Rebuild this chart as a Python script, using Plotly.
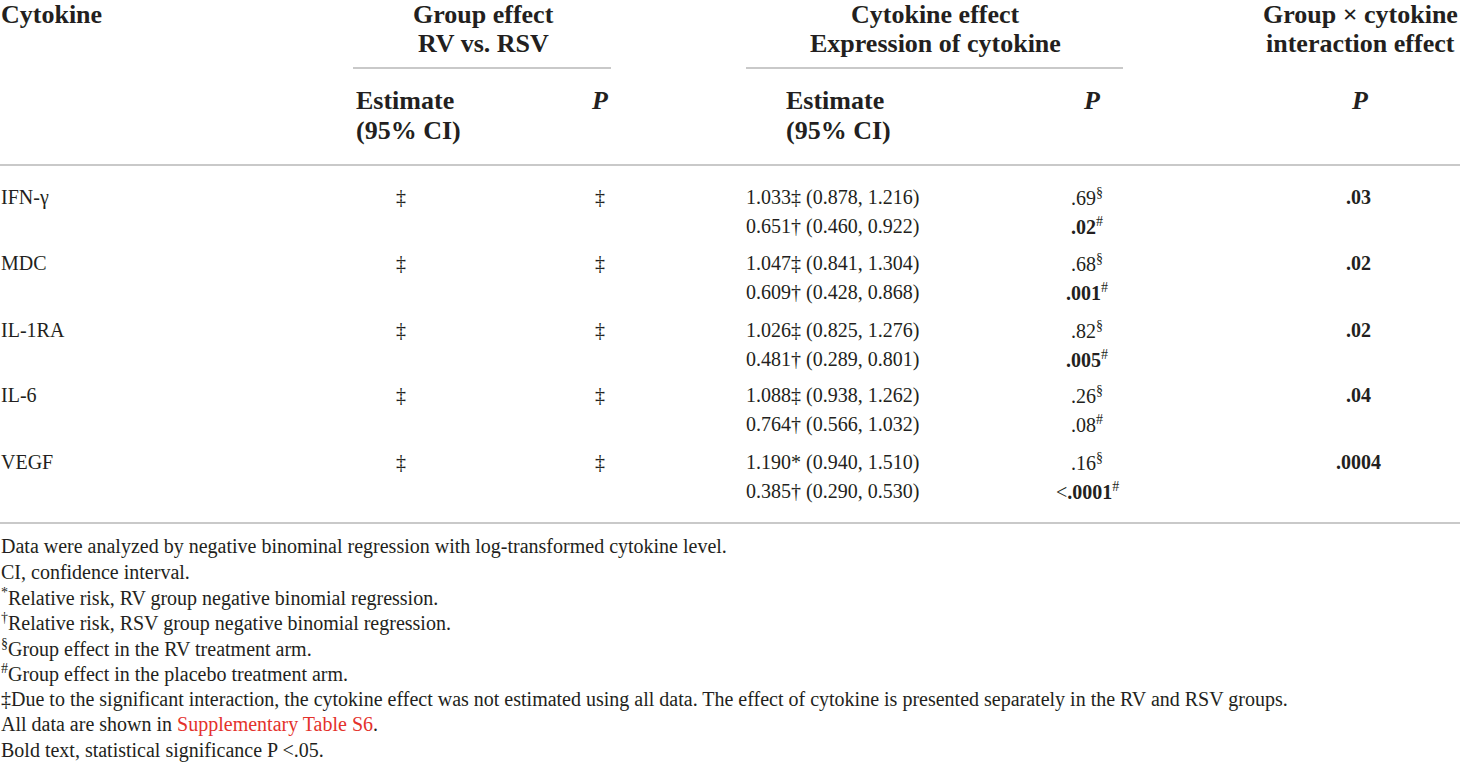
import plotly.graph_objects as go

# ---------------- data ----------------
cytokines = ["IFN-γ", "MDC", "IL-1RA", "IL-6", "VEGF"]
group_estimate = ["‡", "‡", "‡", "‡", "‡"]
group_p = ["‡", "‡", "‡", "‡", "‡"]

rv_rr = ["1.033", "1.047", "1.026", "1.088", "1.190"]
rv_mark = ["‡", "‡", "‡", "‡", "*"]
rv_lo = ["0.878", "0.841", "0.825", "0.938", "0.940"]
rv_hi = ["1.216", "1.304", "1.276", "1.262", "1.510"]
rv_p = [".69", ".68", ".82", ".26", ".16"]
rv_p_bold = [False, False, False, False, False]

rsv_rr = ["0.651", "0.609", "0.481", "0.764", "0.385"]
rsv_mark = ["†", "†", "†", "†", "†"]
rsv_lo = ["0.460", "0.428", "0.289", "0.566", "0.290"]
rsv_hi = ["0.922", "0.868", "0.801", "1.032", "0.530"]
rsv_p_prefix = ["", "", "", "", "<"]
rsv_p = [".02", ".001", ".005", ".08", ".0001"]
rsv_p_bold = [True, True, True, False, True]

interaction_p = [".03", ".02", ".02", ".04", ".0004"]
interaction_bold = [True, True, True, True, True]

footnotes = [
    "Data were analyzed by negative binominal regression with log-transformed cytokine level.",
    "CI, confidence interval.",
    "<sup>*</sup>Relative risk, RV group negative binomial regression.",
    "<sup>†</sup>Relative risk, RSV group negative binomial regression.",
    "<sup>§</sup>Group effect in the RV treatment arm.",
    "<sup>#</sup>Group effect in the placebo treatment arm.",
    "‡Due to the significant interaction, the cytokine effect was not estimated using all data. "
    "The effect of cytokine is presented separately in the RV and RSV groups.",
    "All data are shown in <span style='color:#e4312b'>Supplementary Table S6</span>.",
    "Bold text, statistical significance P &lt;.05.",
]

# ---------------- styling ----------------
W, H = 1460, 763
FONT = "Liberation Serif"
TXT = "#231f20"
RULE = "#c9c9c9"
BODY = 20
HEAD = 26

row_y = [197, 263, 330, 395, 462]
row_gap = 29
foot_y0, foot_gap = 546, 25.5

annotations = []


def add(text, x, y, size=BODY, xanchor="left", bold=False, italic=False, color=TXT):
    t = text
    if bold:
        t = f"<b>{t}</b>"
    if italic:
        t = f"<i>{t}</i>"
    annotations.append(dict(
        text=t, x=x, y=y, xref="x", yref="y", xanchor=xanchor, yanchor="middle",
        showarrow=False, font=dict(family=FONT, size=size, color=color), align="left",
        borderpad=0,
    ))


def bold_if(s, b):
    return f"<b>{s}</b>" if b else s


# headers
add("Cytokine", 0, 14, HEAD, bold=True)
add("Group effect", 483, 14, HEAD, "center", bold=True)
add("RV vs. RSV", 483, 43, HEAD, "center", bold=True)
add("Cytokine effect", 935, 14, HEAD, "center", bold=True)
add("Expression of cytokine", 935, 43, HEAD, "center", bold=True)
add("Group × cytokine", 1360, 14, HEAD, "center", bold=True)
add("interaction effect", 1360, 43, HEAD, "center", bold=True)

add("Estimate", 355, 100, HEAD, bold=True)
add("(95% CI)", 355, 130, HEAD, bold=True)
add("P", 600, 100, HEAD, "center", bold=True, italic=True)
add("Estimate", 785, 100, HEAD, bold=True)
add("(95% CI)", 785, 130, HEAD, bold=True)
add("P", 1092, 100, HEAD, "center", bold=True, italic=True)
add("P", 1360, 100, HEAD, "center", bold=True, italic=True)

# body rows
for i, name in enumerate(cytokines):
    y1 = row_y[i]
    y2 = y1 + row_gap
    add(name, 0, y1)
    add(group_estimate[i], 401, y1, xanchor="center")
    add(group_p[i], 600, y1, xanchor="center")
    add(f"{rv_rr[i]}{rv_mark[i]} ({rv_lo[i]}, {rv_hi[i]})", 745, y1)
    add(f"{rsv_rr[i]}{rsv_mark[i]} ({rsv_lo[i]}, {rsv_hi[i]})", 745, y2)
    add(f"{bold_if(rv_p[i], rv_p_bold[i])}<sup>§</sup>", 1087, y1, xanchor="center")
    add(f"{rsv_p_prefix[i].replace('<', '&lt;')}{bold_if(rsv_p[i], rsv_p_bold[i])}<sup>#</sup>",
        1087, y2, xanchor="center")
    add(bold_if(interaction_p[i], interaction_bold[i]), 1358, y1, xanchor="center")

# footnotes
for k, note in enumerate(footnotes):
    add(note, 0, foot_y0 + k * foot_gap)

shapes = [
    dict(type="line", xref="x", yref="y", x0=353, x1=611, y0=68, y1=68,
         line=dict(color=RULE, width=2)),
    dict(type="line", xref="x", yref="y", x0=746, x1=1123, y0=68, y1=68,
         line=dict(color=RULE, width=2)),
    dict(type="line", xref="x", yref="y", x0=0, x1=W, y0=165, y1=165,
         line=dict(color=RULE, width=2)),
    dict(type="line", xref="x", yref="y", x0=0, x1=W, y0=523, y1=523,
         line=dict(color=RULE, width=2)),
]

fig = go.Figure()
fig.add_trace(go.Scatter(x=[0, W], y=[0, H], mode="markers", marker=dict(opacity=0),
                         hoverinfo="skip", showlegend=False))
fig.update_layout(
    width=W, height=H, margin=dict(l=0, r=0, t=0, b=0),
    paper_bgcolor="white", plot_bgcolor="white",
    xaxis=dict(range=[0, W], visible=False, fixedrange=True),
    yaxis=dict(range=[H, 0], visible=False, fixedrange=True),
    annotations=annotations, shapes=shapes, showlegend=False,
)
fig.write_html(
    "out.html",
    config={"displayModeBar": False},
    post_script="document.body.style.margin='0';document.body.style.overflow='hidden';",
)
